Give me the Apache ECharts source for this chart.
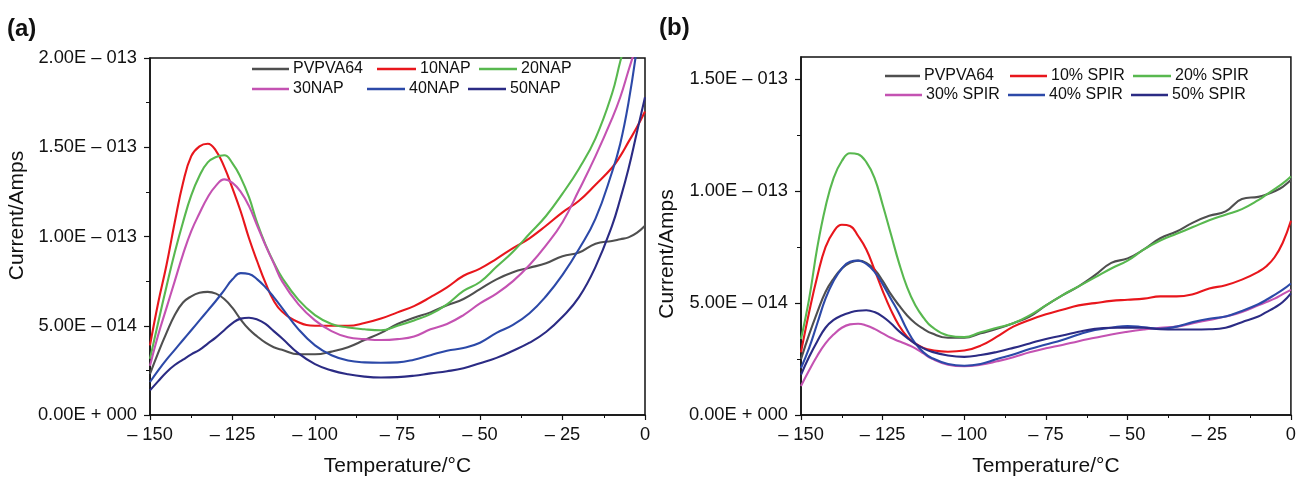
<!DOCTYPE html>
<html>
<head>
<meta charset="utf-8">
<script src="https://cdn.jsdelivr.net/npm/echarts@6/dist/echarts.min.js"></script>
<style>
  html, body { margin: 0; padding: 0; background: #ffffff; }
  #chart { width: 1299px; height: 482px; }
</style>
</head>
<body>
<div id="chart"></div>
<script>
// Sampling temperatures (°C) shared by every trace
const temperatures = [-150, -147.5, -145, -142.5, -140, -137.5, -135, -132.5, -130, -127.5, -125, -122.5, -120,
  -117.5, -115, -112.5, -110, -105, -100, -95, -90, -85, -80, -75, -70, -65, -60, -55, -50, -45, -40, -35,
  -30, -25, -20, -15, -10, -7.5, -5, -2.5, 0];

// Axis ticks
const xTicks = [-150, -125, -100, -75, -50, -25, 0];
const yTicksA = [0, 0.5, 1, 1.5, 2];
const yTicksB = [0, 0.5, 1, 1.5];

// Panel (a): PVPVA64 / naproxen dispersions — current in units of 1e-13 A
const namesA = ['PVPVA64', '10NAP', '20NAP', '30NAP', '40NAP', '50NAP'];
const a_PVPVA64 = [0.23, 0.35, 0.46, 0.56, 0.63, 0.665, 0.685, 0.69, 0.68, 0.65, 0.60, 0.535, 0.48, 0.44, 0.405, 0.38, 0.365,
  0.34, 0.34, 0.355, 0.38, 0.42, 0.46, 0.51, 0.545, 0.575, 0.615, 0.65, 0.705, 0.76, 0.80, 0.825, 0.85, 0.89, 0.91, 0.96, 0.975,
  0.985, 0.995, 1.02, 1.06];
const a_10NAP = [0.39, 0.63, 0.84, 1.08, 1.30, 1.45, 1.505, 1.52, 1.48, 1.39, 1.27, 1.14, 0.99, 0.86, 0.74, 0.64, 0.58,
  0.52, 0.50, 0.50, 0.50, 0.515, 0.54, 0.575, 0.61, 0.66, 0.715, 0.78, 0.82, 0.875, 0.935, 0.99, 1.06, 1.135, 1.20, 1.29, 1.385,
  1.45, 1.53, 1.61, 1.70];
const a_20NAP = [0.315, 0.52, 0.72, 0.91, 1.08, 1.23, 1.34, 1.415, 1.445, 1.455, 1.41, 1.33, 1.22, 1.075, 0.955, 0.855, 0.77,
  0.645, 0.56, 0.51, 0.49, 0.48, 0.475, 0.50, 0.53, 0.565, 0.62, 0.695, 0.745, 0.83, 0.915, 1.015, 1.115, 1.24, 1.38, 1.55, 1.80,
  1.98, 2.15, 2.30, 2.45];
const a_30NAP = [0.276, 0.45, 0.60, 0.75, 0.90, 1.03, 1.13, 1.22, 1.285, 1.32, 1.30, 1.25, 1.17, 1.06, 0.95, 0.85, 0.75,
  0.62, 0.53, 0.47, 0.435, 0.425, 0.42, 0.425, 0.44, 0.48, 0.51, 0.56, 0.625, 0.68, 0.75, 0.84, 0.95, 1.08, 1.26, 1.45, 1.66,
  1.78, 1.93, 2.08, 2.25];
const a_40NAP = [0.185, 0.25, 0.31, 0.365, 0.42, 0.475, 0.53, 0.585, 0.64, 0.70, 0.76, 0.795, 0.79, 0.76, 0.715, 0.66, 0.60,
  0.48, 0.39, 0.335, 0.305, 0.295, 0.293, 0.295, 0.31, 0.335, 0.36, 0.375, 0.405, 0.46, 0.505, 0.57, 0.665, 0.785, 0.93, 1.10, 1.36,
  1.52, 1.75, 2.05, 2.40];
const a_50NAP = [0.138, 0.19, 0.24, 0.28, 0.31, 0.34, 0.365, 0.40, 0.435, 0.475, 0.515, 0.54, 0.545, 0.535, 0.51, 0.47, 0.43,
  0.345, 0.285, 0.25, 0.228, 0.215, 0.21, 0.212, 0.22, 0.233, 0.245, 0.262, 0.29, 0.32, 0.36, 0.405, 0.465, 0.55, 0.66, 0.83, 1.06,
  1.21, 1.38, 1.58, 1.78];

// Panel (b): PVPVA64 / spironolactone dispersions — current in units of 1e-13 A
const namesB = ['PVPVA64', '10% SPIR', '20% SPIR', '30% SPIR', '40% SPIR', '50% SPIR'];
const b_PVPVA64 = [0.25, 0.36, 0.46, 0.55, 0.61, 0.655, 0.68, 0.69, 0.68, 0.65, 0.60, 0.54, 0.49, 0.445, 0.41, 0.385, 0.365,
  0.345, 0.345, 0.365, 0.385, 0.41, 0.44, 0.49, 0.535, 0.575, 0.625, 0.68, 0.70, 0.74, 0.79, 0.82, 0.86, 0.89, 0.91, 0.965, 0.975,
  0.985, 1.00, 1.02, 1.05];
const b_10SPIR = [0.28, 0.46, 0.62, 0.75, 0.82, 0.85, 0.845, 0.80, 0.74, 0.65, 0.555, 0.47, 0.40, 0.35, 0.32, 0.30, 0.29,
  0.283, 0.288, 0.31, 0.35, 0.395, 0.425, 0.45, 0.47, 0.49, 0.50, 0.51, 0.515, 0.52, 0.53, 0.53, 0.54, 0.565, 0.58, 0.605, 0.64,
  0.665, 0.705, 0.77, 0.868];
const b_20SPIR = [0.34, 0.52, 0.75, 0.93, 1.06, 1.135, 1.17, 1.165, 1.13, 1.06, 0.94, 0.81, 0.68, 0.57, 0.49, 0.435, 0.395,
  0.355, 0.348, 0.37, 0.39, 0.41, 0.445, 0.49, 0.535, 0.575, 0.615, 0.655, 0.69, 0.74, 0.78, 0.81, 0.84, 0.87, 0.895, 0.92, 0.96,
  0.985, 1.01, 1.035, 1.066];
const b_30SPIR = [0.13, 0.20, 0.265, 0.32, 0.36, 0.39, 0.405, 0.408, 0.40, 0.385, 0.365, 0.345, 0.33, 0.315, 0.298, 0.275, 0.252,
  0.225, 0.218, 0.225, 0.24, 0.258, 0.28, 0.298, 0.313, 0.33, 0.345, 0.36, 0.372, 0.382, 0.39, 0.395, 0.41, 0.425, 0.44, 0.46, 0.49,
  0.505, 0.52, 0.54, 0.559];
const b_40SPIR = [0.21, 0.30, 0.41, 0.52, 0.60, 0.655, 0.685, 0.69, 0.675, 0.64, 0.585, 0.52, 0.455, 0.38, 0.32, 0.28, 0.255,
  0.228, 0.22, 0.228, 0.25, 0.27, 0.295, 0.315, 0.335, 0.36, 0.38, 0.39, 0.398, 0.392, 0.385, 0.395, 0.415, 0.43, 0.44, 0.465, 0.495,
  0.515, 0.537, 0.56, 0.588];
const b_50SPIR = [0.18, 0.26, 0.33, 0.39, 0.425, 0.445, 0.458, 0.466, 0.468, 0.46, 0.44, 0.41, 0.375, 0.345, 0.318, 0.298, 0.283,
  0.266, 0.26, 0.268, 0.282, 0.30, 0.32, 0.34, 0.355, 0.372, 0.385, 0.39, 0.39, 0.39, 0.383, 0.382, 0.382, 0.383, 0.39, 0.415, 0.44,
  0.46, 0.48, 0.505, 0.544];

const seriesColors = ['#4f4f4f', '#e8161c', '#58b84f', '#c452b2', '#2c49a8', '#2b2b84'];

const FONT = '"Liberation Sans", Arial, Helvetica, sans-serif';
const INK = '#111111';

// "2.00E – 013" style labels from a value in units of 1e-13 A
function sciLabel(v) {
  if (Math.abs(v) < 1e-9) return '0.00E + 000';
  const e = Math.floor(Math.log10(v) + 1e-9) - 13;
  const mant = v / Math.pow(10, e + 13);
  const sign = e < 0 ? ' \u2013 ' : ' + ';
  return mant.toFixed(2) + 'E' + sign + String(Math.abs(e)).padStart(3, '0');
}
function tempLabel(v) {
  return v === 0 ? '0' : '\u2013 ' + Math.abs(v);
}

function xAxisFor(gridIndex) {
  return {
    type: 'value', gridIndex, min: xTicks[0], max: xTicks[xTicks.length - 1], interval: 25,
    name: 'Temperature/°C', nameLocation: 'middle', nameGap: 41,
    nameTextStyle: { fontFamily: FONT, fontSize: 21, color: INK },
    axisLine: { show: true, onZero: false, lineStyle: { color: INK, width: 1.5 } },
    axisTick: { show: true, length: 5, lineStyle: { color: INK, width: 1.2 } },
    minorTick: { show: true, splitNumber: 2, length: 3, lineStyle: { color: INK, width: 1 } },
    axisLabel: { formatter: tempLabel, fontFamily: FONT, fontSize: 18.3, color: INK, margin: 11 },
    splitLine: { show: false }
  };
}

function yAxisFor(gridIndex, ticks, max, gap, nameShift) {
  return {
    type: 'value', gridIndex, min: 0, max, interval: 0.5,
    name: 'Current/Amps', nameLocation: 'middle', nameGap: gap, nameRotate: 90,
    nameTextStyle: { fontFamily: FONT, fontSize: 21, color: INK, padding: nameShift },
    axisLine: { show: true, onZero: false, lineStyle: { color: INK, width: 1.5 } },
    axisTick: { show: true, length: 6, customValues: ticks, lineStyle: { color: INK, width: 1.2 } },
    minorTick: { show: true, splitNumber: 2, length: 4, lineStyle: { color: INK, width: 1 } },
    axisLabel: { customValues: ticks, formatter: sciLabel, fontFamily: FONT, fontSize: 18.3, color: INK, margin: 13 },
    splitLine: { show: false }
  };
}

function lineSeries(name, values, idx, panel) {
  return {
    type: 'line', name, xAxisIndex: panel, yAxisIndex: panel,
    data: temperatures.map((t, i) => [t, values[i]]),
    showSymbol: false, symbol: 'none', smooth: 0.45, clip: true,
    lineStyle: { color: seriesColors[idx], width: 2.1 },
    itemStyle: { color: seriesColors[idx] },
    z: 3 + idx
  };
}

// One legend entry per component so each can sit at its own spot
function legendEntry(name, left, centerY, iconW) {
  return {
    data: [name], left, top: centerY - 9, padding: 0, selectedMode: false,
    icon: 'rect', itemWidth: iconW, itemHeight: 2.5,
    textStyle: { fontFamily: FONT, fontSize: 16, color: INK, padding: [0, 0, 0, -1] }
  };
}

const seriesA = [a_PVPVA64, a_10NAP, a_20NAP, a_30NAP, a_40NAP, a_50NAP].map((v, i) => lineSeries(namesA[i], v, i, 0));
const seriesB = [b_PVPVA64, b_10SPIR, b_20SPIR, b_30SPIR, b_40SPIR, b_50SPIR].map((v, i) => lineSeries(namesB[i], v, i, 1));

const legends = [
  legendEntry('PVPVA64', 252, 70, 37), legendEntry('10NAP', 377, 70, 39), legendEntry('20NAP', 479, 70, 38),
  legendEntry('30NAP', 252, 90, 37), legendEntry('40NAP', 367, 90, 38), legendEntry('50NAP', 468, 90, 38),
  legendEntry('10% SPIR', 1010, 77, 37), legendEntry('20% SPIR', 1133, 77, 38),
  legendEntry('30% SPIR', 885, 96, 37), legendEntry('40% SPIR', 1008, 96, 37), legendEntry('50% SPIR', 1131, 96, 37)
];
// the (b) PVPVA64 key shares its name with panel (a)
legends.push(legendEntry('PVPVA64', 885, 77, 35));

const chart = echarts.init(document.getElementById('chart'), null, { renderer: 'canvas' });
chart.setOption({
  backgroundColor: '#ffffff',
  animation: false,
  title: [
    { text: '(a)', left: 7, top: 17, padding: 0, textStyle: { fontFamily: FONT, fontSize: 24, fontWeight: 'bold', color: INK } },
    { text: '(b)', left: 659, top: 16, padding: 0, textStyle: { fontFamily: FONT, fontSize: 24, fontWeight: 'bold', color: INK } }
  ],
  grid: [
    { left: 150, top: 58, width: 495, height: 362, show: true, borderColor: INK, borderWidth: 1.5, backgroundColor: 'transparent' },
    { left: 801, top: 57, width: 494, height: 363, show: true, borderColor: INK, borderWidth: 1.5, backgroundColor: 'transparent' }
  ],
  legend: legends,
  xAxis: [xAxisFor(0), xAxisFor(1)],
  yAxis: [yAxisFor(0, yTicksA, 2, 122, [0, 0, 0, 42]), yAxisFor(1, yTicksB, 1.6, 123, [0, 36, 0, 0])],
  series: seriesA.concat(seriesB)
});
</script>
</body>
</html>
